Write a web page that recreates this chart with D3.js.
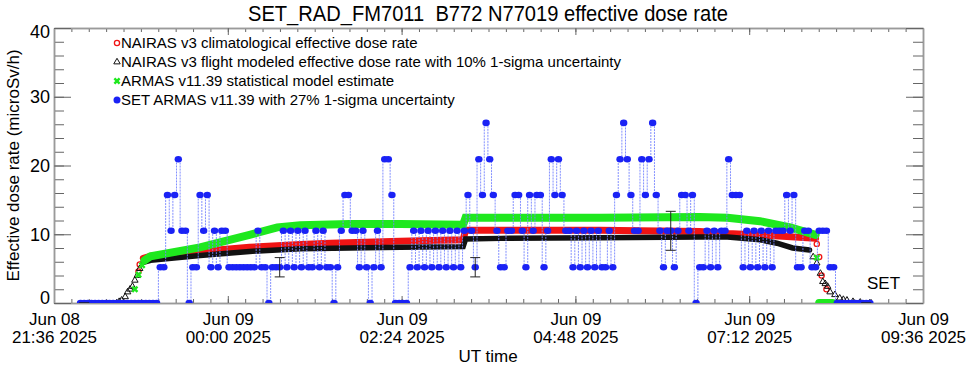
<!DOCTYPE html>
<html>
<head>
<meta charset="utf-8">
<script src="https://cdn.jsdelivr.net/npm/d3@7"></script>
<style>
  body { margin: 0; background: #fff; }
  text { font-family: "Liberation Sans", Arial, Helvetica, sans-serif; fill: #000; }
</style>
</head>
<body>
<svg id="chart" width="969" height="366"></svg>
<script>
// --- data ---
var tickTimes = ["06-08 21:36", "06-09 00:00", "06-09 02:24", "06-09 04:48", "06-09 07:12", "06-09 09:36"];
var tickLabels = [["Jun 08", "21:36 2025"], ["Jun 09", "00:00 2025"], ["Jun 09", "02:24 2025"],
                  ["Jun 09", "04:48 2025"], ["Jun 09", "07:12 2025"], ["Jun 09", "09:36 2025"]];

// SET ARMAS measurements, one every 3 minutes from 21:58
var setStart = "06-08 21:58";
var setStepMin = 3;
var setValues = [
  0,0,0,0,0,0,0,0,0,0,0,0,0,0,0,0,0,0,0,0,0,0,
  5.2,5.2,15.7,10.5,15.7,20.9,10.5,10.5,0,5.2,5.2,15.7,10.5,15.7,5.2,10.5,5.2,10.5,10.5,5.2,
  5.2,5.2,5.2,5.2,5.2,5.2,5.2,10.5,5.2,5.2,0,5.2,5.2,5.2,10.5,5.2,10.5,5.2,10.5,5.2,
  10.5,5.2,5.2,10.5,5.2,10.5,5.2,5.2,0,5.2,10.5,15.7,15.7,10.5,10.5,5.2,10.5,5.2,0,5.2,
  10.5,5.2,20.9,20.9,15.7,0,0,0,0,5.2,10.5,5.2,10.5,5.2,10.5,5.2,10.5,5.2,10.5,5.2,
  10.5,5.2,10.5,5.2,10.5,15.7,10.5,5.2,20.9,15.7,26.2,20.9,15.7,10.5,5.2,5.2,10.5,10.5,15.7,15.7,
  10.5,5.2,15.7,10.5,15.7,15.7,5.2,10.5,20.9,15.7,20.9,15.7,10.5,10.5,5.2,10.5,5.2,10.5,5.2,10.5,
  5.2,10.5,5.2,5.2,10.5,5.2,15.7,20.9,26.2,20.9,15.7,10.5,10.5,20.9,15.7,20.9,26.2,15.7,10.5,5.2,
  10.5,10.5,5.2,10.5,15.7,15.7,10.5,15.7,0,5.2,5.2,10.5,5.2,10.5,5.2,10.5,10.5,20.9,15.7,15.7,
  15.7,5.2,10.5,5.2,10.5,5.2,10.5,5.2,10.5,5.2,10.5,10.5,10.5,15.7,10.5,15.7,5.2,5.2,10.5,10.5,
  5.2,5.2,10.5,10.5,10.5,5.2,5.2,0,0,0,0,0,0,0,0,0,0
];
var setErrIdx = [1, 55, 109, 163, 217];
var setSigma = 0.27;

// NAIRAS v3 climatological (red)
var climTimes = ["06-08 22:46", "06-08 22:47", "06-08 22:50", "06-08 22:56",
  "06-08 23:37", "06-09 00:18", "06-09 01:00", "06-09 01:25", "06-09 02:23", "06-09 03:15", "06-09 03:17",
  "06-09 05:08", "06-09 06:31", "06-09 06:54", "06-09 07:21", "06-09 08:07", "06-09 08:08", "06-09 08:10",
  "06-09 08:12", "06-09 08:16"];
var climValues = [4.6, 5.6, 6.5, 6.8, 7.5, 8.1, 8.5, 8.7, 9.0, 9.2, 10.6,
  10.6, 10.4, 10.1, 9.9, 9.4, 8.6, 6.7, 4.0, 2.0];
var climBand = ["06-08 22:50", "06-09 08:07"];

// NAIRAS v3 flight modeled (black)
var flightTimes = ["06-08 22:28", "06-08 22:30", "06-08 22:32", "06-08 22:35", "06-08 22:37", "06-08 22:39",
  "06-08 22:41", "06-08 22:43", "06-08 22:45", "06-08 22:47", "06-08 22:50", "06-08 22:56", "06-08 23:37",
  "06-09 00:18", "06-09 01:00", "06-09 01:41", "06-09 02:23", "06-09 03:15", "06-09 03:17", "06-09 03:46",
  "06-09 05:08", "06-09 06:31", "06-09 06:54", "06-09 07:21", "06-09 07:35", "06-09 07:48", "06-09 08:02",
  "06-09 08:05", "06-09 08:08", "06-09 08:11", "06-09 08:13", "06-09 08:15", "06-09 08:17", "06-09 08:19",
  "06-09 08:23", "06-09 08:27", "06-09 08:30", "06-09 08:33", "06-09 08:38", "06-09 08:44", "06-09 08:52"];
var flightValues = [0, 0.2, 0.4, 0.9, 1.6, 2.0, 2.4, 3.3, 4.0, 5.0, 5.9, 6.2, 6.9,
  7.5, 7.9, 8.0, 8.1, 8.2, 9.3, 9.4, 9.5, 9.6, 9.6, 9.2, 8.7, 8.0, 7.7,
  6.7, 5.8, 4.3, 3.1, 2.8, 2.4, 1.6, 1.2, 0.7, 0.5, 0.4, 0.2, 0.1, 0];
var flightBand = ["06-08 22:50", "06-09 08:02"];

// ARMAS v11.39 statistical model (green)
var armasTimes = ["06-08 22:43", "06-08 22:46", "06-08 22:49", "06-08 22:51", "06-08 22:56", "06-08 23:37",
  "06-09 00:18", "06-09 00:41", "06-09 01:00", "06-09 01:41", "06-09 02:23", "06-09 03:15", "06-09 03:17",
  "06-09 05:08", "06-09 06:31", "06-09 06:54", "06-09 07:21", "06-09 07:46", "06-09 08:07", "06-09 08:08",
  "06-09 08:10", "06-09 08:21"];
var armasValues = [2.0, 4.1, 5.5, 6.2, 6.8, 8.1, 9.9, 11.0, 11.3, 11.5, 11.5, 11.4, 12.4,
  12.4, 12.5, 12.4, 11.9, 11.0, 9.9, 6.6, 0, 0];
var armasBand = ["06-08 22:51", "06-09 08:07"];
var armasGround = ["06-09 08:10", "06-09 08:21"];

var legendLabels = [
  "NAIRAS v3 climatological effective dose rate",
  "NAIRAS v3 flight modeled effective dose rate with 10% 1-sigma uncertainty",
  "ARMAS v11.39 statistical model estimate",
  "SET ARMAS v11.39 with 27% 1-sigma uncertainty"
];

// --- setup ---
var parseT = d3.utcParse("%Y-%m-%d %H:%M");
function tp(s) { return parseT("2025-" + s); }

var svg = d3.select("#chart");
var pLeft = 54, pRight = 923, pTop = 28, pBottom = 303;

var x = d3.scaleUtc().domain([tp(tickTimes[0]), tp(tickTimes[5])]).range([pLeft, pRight]);
var y = d3.scaleLinear().domain([0, 40]).range([pBottom, pTop]);

var t0 = tp(setStart).getTime();
var setData = setValues.map(function (v, i) { return { t: new Date(t0 + i * setStepMin * 60000), v: v }; });
function pairs(ts, vs) { return ts.map(function (s, i) { return { t: tp(s), v: vs[i] }; }); }
function within(data, range) {
  var a = tp(range[0]), b = tp(range[1]);
  return data.filter(function (d) { return d.t >= a && d.t <= b; });
}
function outside(data, ranges) {
  return data.filter(function (d) {
    return ranges.every(function (r) { return d.t < tp(r[0]) || d.t > tp(r[1]); });
  });
}
var climData = pairs(climTimes, climValues);
var flightData = pairs(flightTimes, flightValues);
var armasData = pairs(armasTimes, armasValues);

svg.append("defs").append("clipPath").attr("id", "plotclip")
  .append("rect").attr("x", pLeft).attr("y", pTop).attr("width", pRight - pLeft).attr("height", pBottom - pTop);

// title
svg.append("text").attr("x", 488).attr("y", 21).attr("text-anchor", "middle")
  .attr("font-size", 22).attr("textLength", 480).attr("lengthAdjust", "spacingAndGlyphs")
  .text("SET_RAD_FM7011\u00a0 B772 N77019 effective dose rate");

// --- axes ---
var majorT = tickTimes.map(tp);
var minorT = d3.range(0, 51).map(function (k) { return new Date(majorT[0].getTime() + k * 14.4 * 60000); });
var minorY = d3.range(0, 41, 2);

function styleAxis(g) {
  g.select(".domain").attr("stroke", "#9a9a9a").attr("stroke-width", 1.5);
  g.selectAll(".tick line").attr("stroke", "#666");
}

svg.append("g").attr("transform", "translate(0," + pBottom + ")")
  .call(d3.axisBottom(x).tickValues(minorT).tickSize(-4).tickSizeOuter(0).tickFormat(""))
  .call(styleAxis);
var xAx = svg.append("g").attr("transform", "translate(0," + pBottom + ")")
  .call(d3.axisBottom(x).tickValues(majorT).tickSize(-7).tickSizeOuter(0))
  .call(styleAxis);
xAx.attr("font-size", 17).attr("font-family", null);
xAx.selectAll(".tick text").each(function (d, i) {
  var t = d3.select(this);
  t.text(null).attr("dy", null).attr("y", null);
  t.append("tspan").attr("x", 0).attr("y", 22).text(tickLabels[i][0]);
  t.append("tspan").attr("x", 0).attr("y", 40).text(tickLabels[i][1]);
});

svg.append("g").attr("transform", "translate(0," + pTop + ")")
  .call(d3.axisTop(x).tickValues(minorT).tickSize(-4).tickSizeOuter(0).tickFormat(""))
  .call(styleAxis);
svg.append("g").attr("transform", "translate(0," + pTop + ")")
  .call(d3.axisTop(x).tickValues(majorT).tickSize(-7).tickSizeOuter(0).tickFormat(""))
  .call(styleAxis);

svg.append("g").attr("transform", "translate(" + pLeft + ",0)")
  .call(d3.axisLeft(y).tickValues(minorY).tickSize(-10).tickSizeOuter(0).tickFormat(""))
  .call(styleAxis);
var yAx = svg.append("g").attr("transform", "translate(" + pLeft + ",0)")
  .call(d3.axisLeft(y).tickValues([0, 10, 20, 30, 40]).tickSize(-17).tickSizeOuter(0).tickPadding(4))
  .call(styleAxis);
yAx.attr("font-size", 18).attr("font-family", null);
yAx.selectAll(".tick text").attr("dy", function (d) { return d === 0 ? "0.05em" : d === 40 ? "0.55em" : "0.32em"; });

svg.append("g").attr("transform", "translate(" + pRight + ",0)")
  .call(d3.axisRight(y).tickValues(minorY).tickSize(-10).tickSizeOuter(0).tickFormat(""))
  .call(styleAxis);
svg.append("g").attr("transform", "translate(" + pRight + ",0)")
  .call(d3.axisRight(y).tickValues([0, 10, 20, 30, 40]).tickSize(-17).tickSizeOuter(0).tickFormat(""))
  .call(styleAxis);

// axis titles
svg.append("text").attr("transform", "translate(19," + ((pTop + pBottom) / 2) + ") rotate(-90)")
  .attr("text-anchor", "middle").attr("font-size", 17).text("Effective dose rate (microSv/h)");
svg.append("text").attr("x", 488).attr("y", 362).attr("text-anchor", "middle")
  .attr("font-size", 17).text("UT time");

// --- series ---
var plot = svg.append("g").attr("clip-path", "url(#plotclip)");
var line = d3.line().x(function (d) { return x(d.t); }).y(function (d) { return y(d.v); });
var RED = "#f01414", BLK = "#111", GRN = "#1ee81e", BLU = "#1a22f5";

function band(data, color, w) {
  plot.append("path").datum(data).attr("d", line).attr("fill", "none")
    .attr("stroke", color).attr("stroke-width", w).attr("stroke-linecap", "round");
}

// red: band + loose circles on the ramps
band(within(climData, climBand), RED, 7);
plot.selectAll(".clim").data(outside(climData, [climBand])).enter().append("circle")
  .attr("cx", function (d) { return x(d.t); }).attr("cy", function (d) { return y(d.v); })
  .attr("r", 2.6).attr("fill", "none").attr("stroke", RED).attr("stroke-width", 1.3);

// black: band + triangles on the ramps
band(within(flightData, flightBand), BLK, 5.5);
var tri = d3.symbol().type(d3.symbolTriangle).size(18);
plot.selectAll(".flt").data(outside(flightData, [flightBand])).enter().append("path").attr("d", tri)
  .attr("transform", function (d) { return "translate(" + x(d.t) + "," + y(d.v) + ")"; })
  .attr("fill", "none").attr("stroke", BLK).attr("stroke-width", 1);

// green: band, ground stretch + crosses on the ramps
band(within(armasData, armasBand), GRN, 8);
band(within(armasData, armasGround), GRN, 8);
var cross = d3.symbol().type(d3.symbolCross).size(30);
plot.selectAll(".arm").data(outside(armasData, [armasBand, armasGround])).enter().append("path").attr("d", cross)
  .attr("transform", function (d) { return "translate(" + x(d.t) + "," + y(d.v) + ") rotate(45)"; })
  .attr("fill", GRN);

// SET measurements
plot.append("path").datum(setData).attr("d", d3.line().curve(d3.curveStep)
    .x(function (d) { return x(d.t); }).y(function (d) { return y(d.v); }))
  .attr("fill", "none").attr("stroke", "#7583ff").attr("stroke-width", 0.9).attr("stroke-dasharray", "2,1");
plot.selectAll(".set").data(setData).enter().append("ellipse")
  .attr("cx", function (d) { return x(d.t); }).attr("cy", function (d) { return y(d.v); })
  .attr("rx", 3.7).attr("ry", 3.3).attr("fill", BLU);

// SET error bars
setErrIdx.forEach(function (i) {
  var d = setData[i], cx = x(d.t);
  var lo = y(d.v * (1 - setSigma)), hi = y(d.v * (1 + setSigma));
  var g = plot.append("g").attr("stroke", "#222").attr("stroke-width", 1);
  g.append("line").attr("x1", cx).attr("x2", cx).attr("y1", lo).attr("y2", hi);
  g.append("line").attr("x1", cx - 5).attr("x2", cx + 5).attr("y1", lo).attr("y2", lo);
  g.append("line").attr("x1", cx - 5).attr("x2", cx + 5).attr("y1", hi).attr("y2", hi);
});

svg.append("text").attr("x", 867).attr("y", 289).attr("font-size", 17).text("SET");

// --- legend ---
var leg = svg.append("g");
var rows = [43, 62, 81, 100];
leg.append("circle").attr("cx", 117).attr("cy", rows[0]).attr("r", 2.6)
  .attr("fill", "none").attr("stroke", RED).attr("stroke-width", 1.3);
leg.append("path").attr("d", tri).attr("transform", "translate(117," + rows[1] + ")")
  .attr("fill", "none").attr("stroke", BLK);
leg.append("path").attr("d", cross).attr("transform", "translate(117," + rows[2] + ") rotate(45)")
  .attr("fill", GRN);
leg.append("circle").attr("cx", 117).attr("cy", rows[3]).attr("r", 3.5).attr("fill", BLU);
legendLabels.forEach(function (s, i) {
  leg.append("text").attr("x", 121).attr("y", rows[i]).attr("dy", "0.35em")
    .attr("font-size", 15).text(s);
});
</script>
</body>
</html>
